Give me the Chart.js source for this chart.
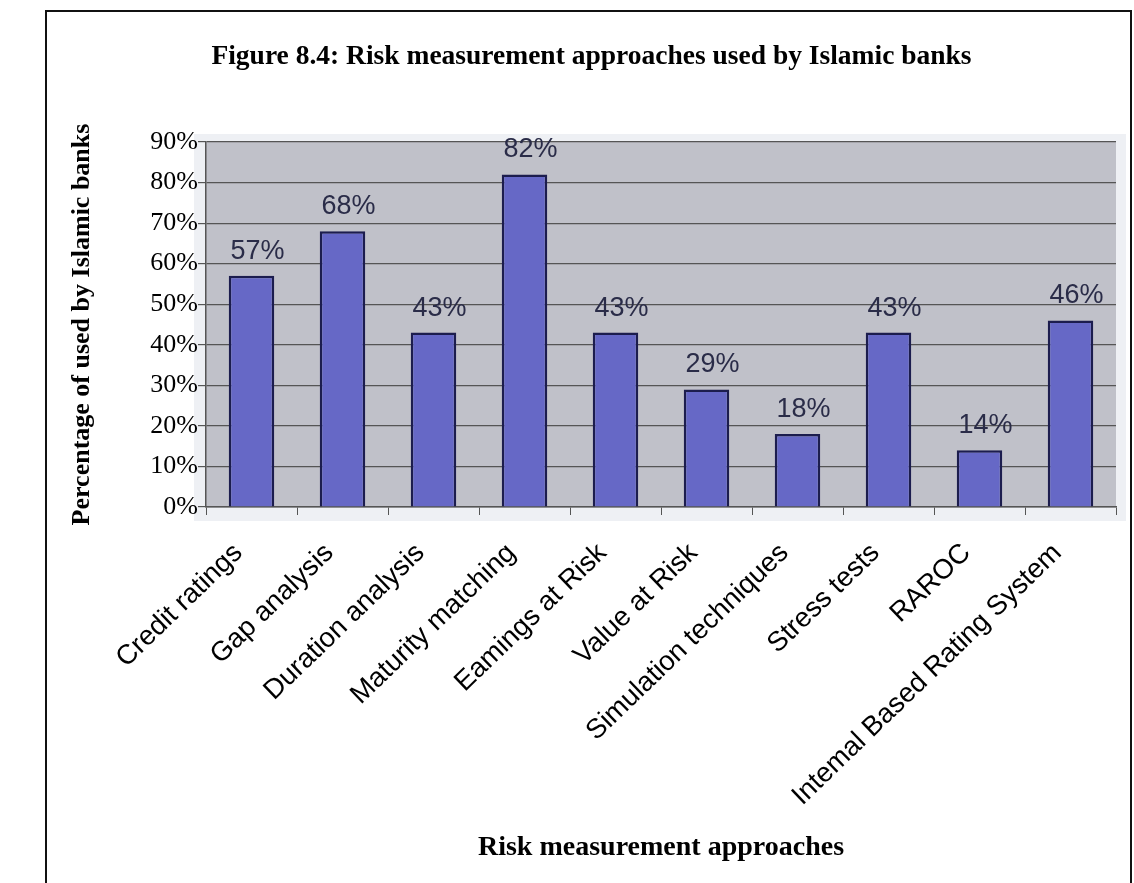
<!DOCTYPE html>
<html>
<head>
<meta charset="utf-8">
<title>Risk measurement approaches</title>
<script src="https://cdn.jsdelivr.net/npm/chart.js@4"></script>
<style>
    body { margin: 0; background: #ffffff; }
    #wrap { position: relative; width: 1134px; height: 883px; overflow: hidden; }
    #frame { position: absolute; left: 45px; top: 10px; width: 1087px; height: 900px; border: 2px solid #111; box-sizing: border-box; pointer-events: none; }
    canvas { position: absolute; left: 0; top: 0; }
</style>
</head>
<body>
<div id="wrap">
    <canvas id="riskChart" width="1134" height="883"></canvas>
    <div id="frame"></div>
</div>
<script>
// categories and values (label spelling as printed)
var approaches = [
    "Credit ratings", "Gap analysis", "Duration analysis", "Maturity matching",
    "Eamings at Risk", "Value at Risk", "Simulation techniques", "Stress tests",
    "RAROC", "Intemal Based Rating System"
];
var percentUsed = [57, 68, 43, 82, 43, 29, 18, 43, 14, 46];
var yTicks = [0, 10, 20, 30, 40, 50, 60, 70, 80, 90];

var serif = "'Liberation Serif', 'Times New Roman', serif";
var sans = "'Liberation Sans', Arial, sans-serif";

// grey plot background, like the excel chart
var plotBackground = {
    id: 'plotBackground',
    beforeDraw: function(chart) {
        var ctx = chart.ctx;
        var a = chart.chartArea;
        ctx.save();
        ctx.fillStyle = '#eef0f4';
        ctx.fillRect(a.left - 12, a.top - 8, a.right - a.left + 22, a.bottom - a.top + 22);
        ctx.fillStyle = '#c0c1c9';
        ctx.fillRect(a.left, a.top, a.right - a.left, a.bottom - a.top);
        ctx.restore();
    }
};

// percentage above each bar
var barValues = {
    id: 'barValues',
    afterDatasetsDraw: function(chart) {
        var ctx = chart.ctx;
        var meta = chart.getDatasetMeta(0);
        ctx.save();
        ctx.font = '27px ' + sans;
        ctx.fillStyle = '#2a2c48';
        ctx.textAlign = 'center';
        ctx.textBaseline = 'alphabetic';
        meta.data.forEach(function(bar, i) {
            ctx.fillText(percentUsed[i] + '%', bar.x + 6, bar.y - 17);
        });
        ctx.restore();
    }
};

var ctx = document.getElementById('riskChart').getContext('2d');
var chart = new Chart(ctx, {
    type: 'bar',
    data: {
        labels: approaches,
        datasets: [{
            data: percentUsed,
            backgroundColor: '#6668c6',
            borderColor: '#1c1d4e',
            borderWidth: 2.5,
            borderSkipped: 'bottom',
            barPercentage: 0.5,
            categoryPercentage: 1.0
        }]
    },
    options: {
        responsive: false,
        animation: false,
        layout: { padding: { left: 67, right: 18, top: 0, bottom: 16 } },
        plugins: {
            legend: { display: false },
            tooltip: { enabled: false },
            title: {
                display: true,
                text: 'Figure 8.4: Risk measurement approaches used by Islamic banks',
                color: '#000',
                font: { family: serif, size: 27.5, weight: 'bold', lineHeight: 1.2 },
                padding: { top: 40, bottom: 69 }
            }
        },
        scales: {
            x: {
                grid: {
                    drawOnChartArea: false,
                    drawTicks: true,
                    tickLength: 8,
                    color: '#555'
                },
                border: { display: true, color: '#555', width: 1.5 },
                ticks: {
                    minRotation: 44,
                    maxRotation: 44,
                    autoSkip: false,
                    padding: 22,
                    labelOffset: -13,
                    color: '#000',
                    font: { family: sans, size: 27.5 }
                },
                title: {
                    display: true,
                    text: 'Risk measurement approaches',
                    color: '#000',
                    font: { family: serif, size: 28, weight: 'bold', lineHeight: 1.2 },
                    padding: { top: 0, bottom: 2 }
                },
                afterFit: function(scale) { scale.height = 360; }
            },
            y: {
                min: 0,
                max: 90,
                afterBuildTicks: function(scale) {
                    scale.ticks = yTicks.map(function(v) { return { value: v }; });
                },
                grid: {
                    color: '#555',
                    lineWidth: 1.2,
                    tickLength: 8
                },
                border: { display: true, color: '#555', width: 1.5 },
                ticks: {
                    padding: 0,
                    color: '#000',
                    font: { family: serif, size: 26 },
                    callback: function(v) { return v + '%'; }
                },
                title: {
                    display: true,
                    text: 'Percentage of used by Islamic banks',
                    color: '#000',
                    font: { family: serif, size: 26, weight: 'bold', lineHeight: 1.2 },
                    padding: { top: 0, bottom: 0 }
                },
                afterFit: function(scale) { scale.width = 139; }
            }
        }
    },
    plugins: [plotBackground, barValues]
});
</script>
</body>
</html>
